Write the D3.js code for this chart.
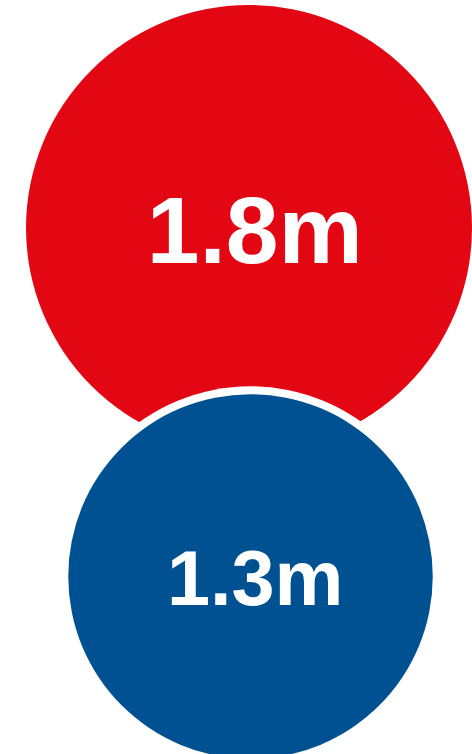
<!DOCTYPE html>
<html>
<head>
<meta charset="utf-8">
<script src="https://cdn.jsdelivr.net/npm/d3@7"></script>
<style>
  html, body { margin: 0; padding: 0; background: #ffffff; }
  svg { display: block; }
</style>
</head>
<body>
<svg id="chart" width="472" height="754"></svg>
<script>
// Two overlapping bubbles, sized by value
const names = ["first", "second"];
const values = [1.8, 1.3];
const labels = ["1.8m", "1.3m"];
const colors = ["#e30613", "#005192"];

const width = 472, height = 754;
const svg = d3.select("#chart");

// Radius scale for the bubbles
const r = d3.scalePow().exponent(0.62).domain([0, 1.8]).range([0, 223]);

// Bubble centres
const cx = d3.scaleOrdinal().domain(names).range([249, 250.5]);
const cy = d3.scaleOrdinal().domain(names).range([228, 576.5]);

const data = names.map((n, i) => ({ name: n, value: values[i], label: labels[i], color: colors[i] }));

const g = svg.selectAll("g.bubble")
  .data(data)
  .join("g")
  .attr("class", "bubble");

// White halo separating the lower bubble from the upper one
g.filter((d, i) => i > 0)
  .append("circle")
  .attr("cx", d => cx(d.name))
  .attr("cy", d => cy(d.name))
  .attr("r", d => r(d.value) + 8)
  .attr("fill", "#ffffff");

g.append("circle")
  .attr("cx", d => cx(d.name))
  .attr("cy", d => cy(d.name))
  .attr("r", d => r(d.value))
  .attr("fill", d => d.color);

const fontSize = d => r(d.value) * 0.425;

g.append("text")
  .attr("x", d => cx(d.name) + fontSize(d) * 0.06)
  .attr("y", d => cy(d.name) + fontSize(d) * 0.37)
  .attr("text-anchor", "middle")
  .attr("fill", "#ffffff")
  .attr("font-family", "Arial, 'Liberation Sans', sans-serif")
  .attr("font-weight", "bold")
  .attr("font-size", fontSize)
  .text(d => d.label);
</script>
</body>
</html>
